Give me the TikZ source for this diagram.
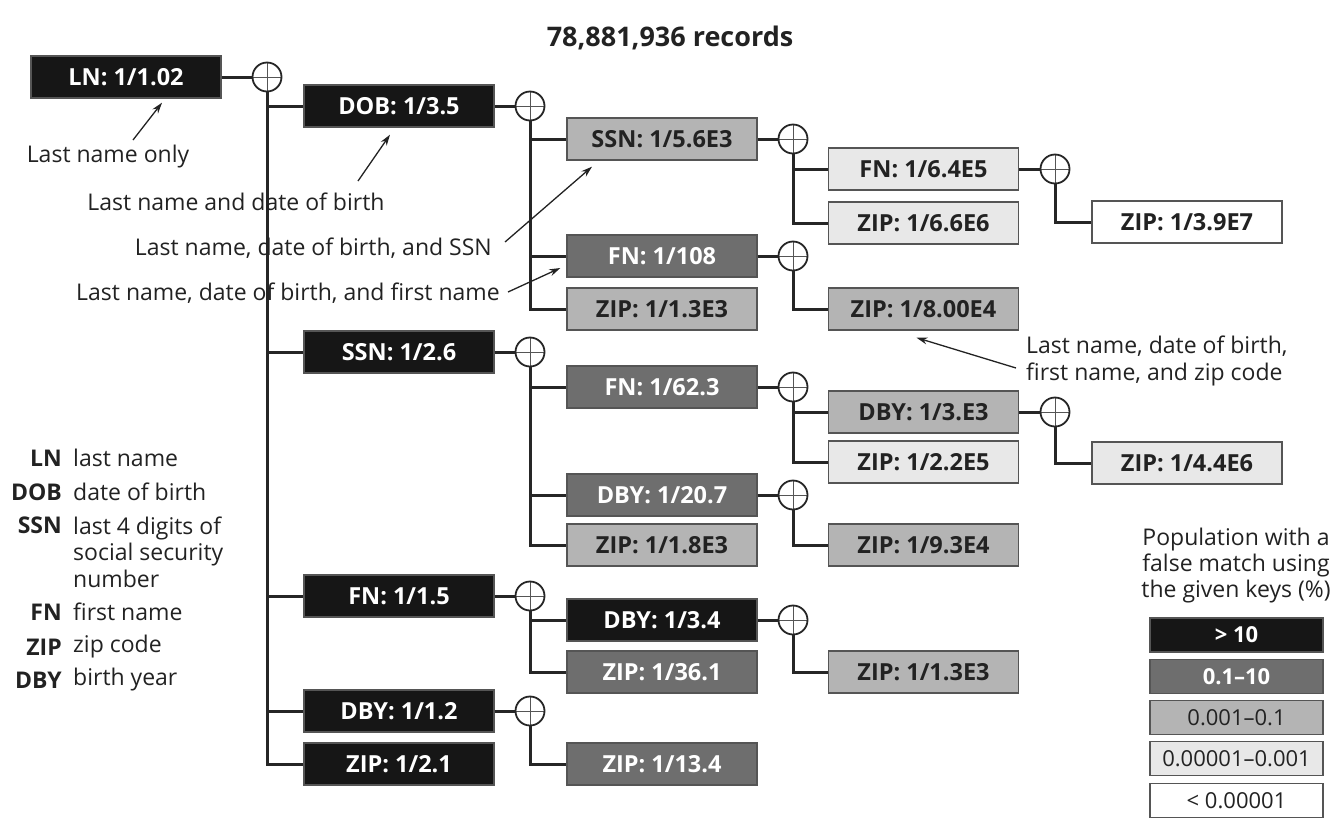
\documentclass[tikz,border=0pt]{standalone}
\usepackage{fontspec}
\setmainfont{Open Sans}
\usetikzlibrary{arrows.meta,calc}
\definecolor{kBlack}{HTML}{161616}
\definecolor{kDark}{HTML}{6E6E6E}
\definecolor{kMid}{HTML}{B4B4B4}
\definecolor{kLight}{HTML}{E8E8E8}
\definecolor{kBorder}{HTML}{555555}
\definecolor{kLine}{HTML}{262626}
\definecolor{kText}{HTML}{222222}
\begin{document}
\begin{tikzpicture}[x=1pt,y=-1pt,
  kbox/.style={draw=kBorder, line width=1.4pt, minimum width=190pt, minimum height=42pt, inner sep=0pt, font=\fontsize{23.5}{28}\selectfont\bfseries},
  lvA/.style={kbox, fill=kBlack, text=white},
  lvB/.style={kbox, fill=kDark, text=white},
  lvC/.style={kbox, fill=kMid, text=kText},
  lvD/.style={kbox, fill=kLight, text=kText},
  lvE/.style={kbox, fill=white, text=kText},
  joint/.style={circle, draw=kLine, line width=1.8pt, minimum size=29pt, inner sep=0pt, fill=white,
    path picture={\draw[kBorder, line width=0.7pt] (path picture bounding box.north) -- (path picture bounding box.south) (path picture bounding box.west) -- (path picture bounding box.east);}},
  link/.style={draw=kLine, line width=3pt},
  note/.style={font=\fontsize{23}{26.5}\selectfont, text=kText, inner sep=0pt},
  abbr/.style={note, font=\fontsize{23}{26.5}\selectfont\bfseries, anchor=east},
  desc/.style={note, anchor=west, align=left},
  pointer/.style={draw=kText, line width=1.3pt, -{Stealth[length=11pt,width=7pt]}},
  keybox/.style={draw=kBorder, line width=1.4pt, minimum width=173pt, minimum height=34pt, inner sep=0pt, font=\fontsize{22}{26}\selectfont}
]
\useasboundingbox (0,0) rectangle (1340,820);

% title
\node[font=\fontsize{27}{32}\selectfont\bfseries, text=kText] (title) at (670,38) {78,881,936 records};

% column 1
\node[lvA] (ln) at (126,77) {LN: 1/1.02};
% column 2
\node[lvA] (dob) at (399,106) {DOB: 1/3.5};
\node[lvA] (ssn2) at (399,352) {SSN: 1/2.6};
\node[lvA] (fn2) at (399,596) {FN: 1/1.5};
\node[lvA] (dby2) at (399,711) {DBY: 1/1.2};
\node[lvA] (zip2) at (399,764) {ZIP: 1/2.1};
% column 3
\node[lvC] (ssn3) at (662,139) {SSN: 1/5.6E3};
\node[lvB] (fn108) at (662,256) {FN: 1/108};
\node[lvC] (zip13) at (662,309) {ZIP: 1/1.3E3};
\node[lvB] (fn62) at (662,387) {FN: 1/62.3};
\node[lvB] (dby207) at (662,495) {DBY: 1/20.7};
\node[lvC] (zip18) at (662,545) {ZIP: 1/1.8E3};
\node[lvA] (dby34) at (662,620) {DBY: 1/3.4};
\node[lvB] (zip361) at (662,672) {ZIP: 1/36.1};
\node[lvB] (zip134) at (662,764) {ZIP: 1/13.4};
% column 4
\node[lvD] (fn64) at (923.5,169) {FN: 1/6.4E5};
\node[lvD] (zip66) at (923.5,223) {ZIP: 1/6.6E6};
\node[lvC] (zip80) at (923.5,309) {ZIP: 1/8.00E4};
\node[lvC] (dby3e3) at (923.5,412) {DBY: 1/3.E3};
\node[lvD] (zip22) at (923.5,462) {ZIP: 1/2.2E5};
\node[lvC] (zip93) at (923.5,545) {ZIP: 1/9.3E4};
\node[lvC] (zip13b) at (923.5,672) {ZIP: 1/1.3E3};
% column 5
\node[lvE] (zip39) at (1187,222) {ZIP: 1/3.9E7};
\node[lvD] (zip44) at (1187,463) {ZIP: 1/4.4E6};

% joints
\node[joint] (jLN) at (267,77) {};
\node[joint] (jDOB) at (530,106) {};
\node[joint] (jSSN2) at (530,352) {};
\node[joint] (jFN2) at (530,596) {};
\node[joint] (jDBY2) at (530,711) {};
\node[joint] (jSSN3) at (793,139) {};
\node[joint] (jFN108) at (793,256) {};
\node[joint] (jFN62) at (793,387) {};
\node[joint] (jDBY207) at (793,495) {};
\node[joint] (jDBY34) at (793,620) {};
\node[joint] (jFN64) at (1055,169) {};
\node[joint] (jDBY3e3) at (1055,412) {};

% box to joint
\foreach \b/\j in {ln/jLN, dob/jDOB, ssn2/jSSN2, fn2/jFN2, dby2/jDBY2, ssn3/jSSN3, fn108/jFN108, fn62/jFN62, dby207/jDBY207, dby34/jDBY34, fn64/jFN64, dby3e3/jDBY3e3}
  \draw[link] (\b.east) -- (\j.west);

% joint to children
\foreach \j/\c in {jLN/dob, jLN/ssn2, jLN/fn2, jLN/dby2, jLN/zip2,
                   jDOB/ssn3, jDOB/fn108, jDOB/zip13,
                   jSSN3/fn64, jSSN3/zip66, jFN64/zip39, jFN108/zip80,
                   jSSN2/fn62, jSSN2/dby207, jSSN2/zip18,
                   jFN62/dby3e3, jFN62/zip22, jDBY3e3/zip44, jDBY207/zip93,
                   jFN2/dby34, jFN2/zip361, jDBY34/zip13b, jDBY2/zip134}
  \draw[link] (\j.south) |- (\c.west);

% annotations
\node[note] (n1) at (108,157) {Last name only};
\node[note] (n2) at (236,202) {Last name and date of birth};
\node[note, anchor=east] (n3) at (492,248) {Last name, date of birth, and SSN};
\node[note, anchor=east] (n4) at (500,293) {Last name, date of birth, and first name};
\node[note, anchor=north west, align=left] (n5) at (1026,336) {Last name, date of birth,\\first name, and zip code};

\coordinate (s1) at (133,140);
\coordinate (s2) at (358,181);
\coordinate (s3) at (505,242);
\coordinate (s4) at (508,292);
\coordinate (s5) at (1016,368);
\draw[pointer] (s1) -- ([xshift=36pt,yshift=-4pt]ln.south);
\draw[pointer] (s2) -- ([xshift=-9pt,yshift=-7pt]dob.south);
\draw[pointer] (s3) -- ([xshift=-70pt,yshift=-6pt]ssn3.south);
\draw[pointer] (s4) -- ([xshift=-6pt,yshift=-12pt]fn108.west);
\draw[pointer] (s5) -- ([xshift=-7pt,yshift=-7pt]zip80.south);

% abbreviation legend
\node[abbr] (aLN) at (62,458) {LN};
\node[desc] (dLN) at (73,458) {last name};
\node[abbr] (aDOB) at (62,492) {DOB};
\node[desc] (dDOB) at (73,492) {date of birth};
\node[abbr] (aSSN) at (62,525) {SSN};
\node[desc] (dSSN) at (73,552) {last 4 digits of\\social security\\number};
\node[abbr] (aFN) at (62,612) {FN};
\node[desc] (dFN) at (73,612) {first name};
\node[abbr] (aZIP) at (62,647) {ZIP};
\node[desc] (dZIP) at (73,647) {zip code};
\node[abbr] (aDBY) at (62,680) {DBY};
\node[desc] (dDBY) at (73,680) {birth year};

% key legend
\node[note, align=center, font=\fontsize{23}{26}\selectfont] (keyhead) at (1236,566) {Population with a\\false match using\\the given keys (\%)};
\node[keybox, fill=kBlack, text=white, font=\fontsize{22}{26}\selectfont\bfseries] (k1) at (1236.5,635) {> 10};
\node[keybox, fill=kDark, text=white, font=\fontsize{22}{26}\selectfont\bfseries] (k2) at (1236.5,676.5) {0.1–10};
\node[keybox, fill=kMid, text=kText] (k3) at (1236.5,717.5) {0.001–0.1};
\node[keybox, fill=kLight, text=kText] (k4) at (1236.5,758.5) {0.00001–0.001};
\node[keybox, fill=white, text=kText] (k5) at (1236.5,800.5) {< 0.00001};
\end{tikzpicture}
\end{document}
